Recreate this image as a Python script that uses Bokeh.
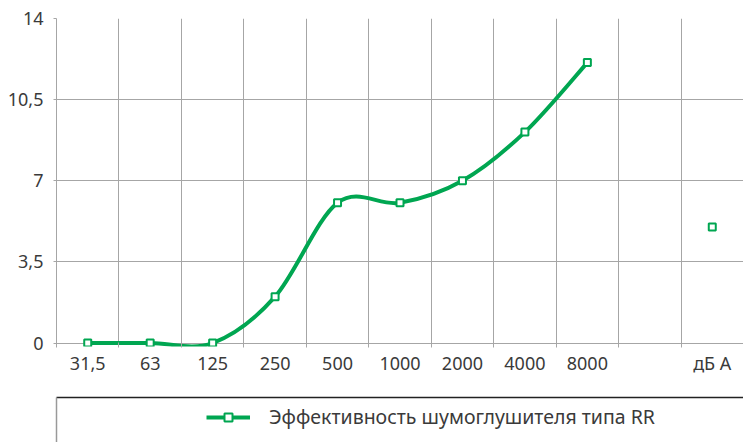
from bokeh.plotting import figure
from bokeh.models import (Range1d, FixedTicker, LinearAxis, Legend, LegendItem,
                          ColumnDataSource)
from bokeh.layouts import column
from bokeh.embed import file_html
from bokeh.resources import INLINE

# ---- data ----
categories = ["31,5", "63", "125", "250", "500", "1000", "2000", "4000", "8000", "", "дБ А"]
band_values = [0.0, 0.0, 0.0, 2.0, 6.05, 6.05, 7.0, 9.1, 12.1]
dba_value = 5.0
y_ticks = [0.0, 3.5, 7.0, 10.5, 14.0]
y_tick_labels = ["0", "3,5", "7", "10,5", "14"]
series_name = "Эффективность шумоглушителя типа RR"

GREEN = "#00a651"
GRID = "#a6a6a6"
TXT = "#3a3a3a"
FONT = "Noto Sans"

n_cat = len(categories)
centers = [i + 0.5 for i in range(n_cat)]
bounds = [float(i) for i in range(n_cat + 1)]

p = figure(width=743, height=388, output_backend="svg", toolbar_location=None,
           x_range=Range1d(0, n_cat), y_range=Range1d(-0.15, 14),
           min_border_left=56, min_border_right=0, min_border_top=18, min_border_bottom=42)
p.outline_line_color = None
p.background_fill_color = "white"
p.border_fill_color = "white"

# x axis
xa = p.xaxis[0]
xa.ticker = FixedTicker(ticks=centers, minor_ticks=bounds)
xa.major_label_overrides = {c: lab for c, lab in zip(centers, categories)}
xa.major_tick_out = 0
xa.major_tick_in = 0
xa.minor_tick_out = 1
xa.minor_tick_in = 4
xa.minor_tick_line_color = GRID
xa.axis_line_color = None
xa.major_label_standoff = 3
xa.major_label_text_font = FONT
xa.major_label_text_font_size = "18px"
xa.major_label_text_color = TXT

# y axis
ya = p.yaxis[0]
ya.ticker = FixedTicker(ticks=y_ticks)
ya.major_label_overrides = {t: lab for t, lab in zip(y_ticks, y_tick_labels)}
ya.major_tick_out = 3
ya.major_tick_in = 0
ya.major_tick_line_color = GRID
ya.minor_tick_line_color = None
ya.axis_line_color = GRID
ya.major_label_standoff = 10
ya.major_label_text_font = FONT
ya.major_label_text_font_size = "18px"
ya.major_label_text_color = TXT

p.xgrid.ticker = FixedTicker(ticks=bounds)
p.ygrid.ticker = FixedTicker(ticks=y_ticks)
p.xgrid.grid_line_color = GRID
p.ygrid.grid_line_color = GRID

# smooth curve (cubic Bezier, Catmull-Rom style control points)
xs = centers[:len(band_values)]
ys = band_values
m = len(xs)
seg = dict(x0=[], y0=[], x1=[], y1=[], cx0=[], cy0=[], cx1=[], cy1=[])
for i in range(m - 1):
    a = max(i - 1, 0)
    d = min(i + 2, m - 1)
    seg["x0"].append(xs[i]); seg["y0"].append(ys[i])
    seg["x1"].append(xs[i + 1]); seg["y1"].append(ys[i + 1])
    seg["cx0"].append(xs[i] + (xs[i + 1] - xs[a]) / 6)
    seg["cy0"].append(ys[i] + (ys[i + 1] - ys[a]) / 6)
    seg["cx1"].append(xs[i + 1] - (xs[d] - xs[i]) / 6)
    seg["cy1"].append(ys[i + 1] - (ys[d] - ys[i]) / 6)
p.bezier(x0="x0", y0="y0", x1="x1", y1="y1", cx0="cx0", cy0="cy0", cx1="cx1", cy1="cy1",
         source=ColumnDataSource(seg), line_color=GREEN, line_width=4, line_cap="round")

p.scatter(x=xs, y=ys, marker="square", size=7, fill_color="white",
          line_color=GREEN, line_width=2)
p.scatter(x=[centers[-1]], y=[dba_value], marker="square", size=7, fill_color="white",
          line_color=GREEN, line_width=2)

# legend panel (its renderers hold the series but lie outside this panel's range)
p2 = figure(width=743, height=54, output_backend="svg", toolbar_location=None,
            x_range=Range1d(-20, -19), y_range=Range1d(-20, -19),
            min_border_left=53, min_border_right=0, min_border_top=9, min_border_bottom=0)
p2.outline_line_color = None
p2.xaxis.visible = False
p2.yaxis.visible = False
p2.grid.visible = False
for side, color in (("left", "#999999"), ("above", "#222222")):
    ax = LinearAxis(ticker=FixedTicker(ticks=[]), major_tick_line_color=None,
                    minor_tick_line_color=None, major_label_text_font_size="0px",
                    axis_line_color=color, axis_line_width=1.5)
    p2.add_layout(ax, side)

lr = p2.line(x=xs, y=ys, line_color=GREEN, line_width=4)
sr = p2.scatter(x=xs, y=ys, marker="square", size=7, fill_color="white",
                line_color=GREEN, line_width=2)
leg = Legend(items=[LegendItem(label=series_name, renderers=[lr, sr])],
             location=(150, 12), padding=0, margin=0, spacing=0,
             glyph_width=44, glyph_height=20, label_standoff=19,
             label_text_font=FONT, label_text_font_size="19.5px", label_text_color=TXT,
             border_line_color=None, background_fill_alpha=0)
p2.add_layout(leg, "center")

layout = column(p, p2, spacing=0)
open("out.html", "w").write(file_html(layout, INLINE))
